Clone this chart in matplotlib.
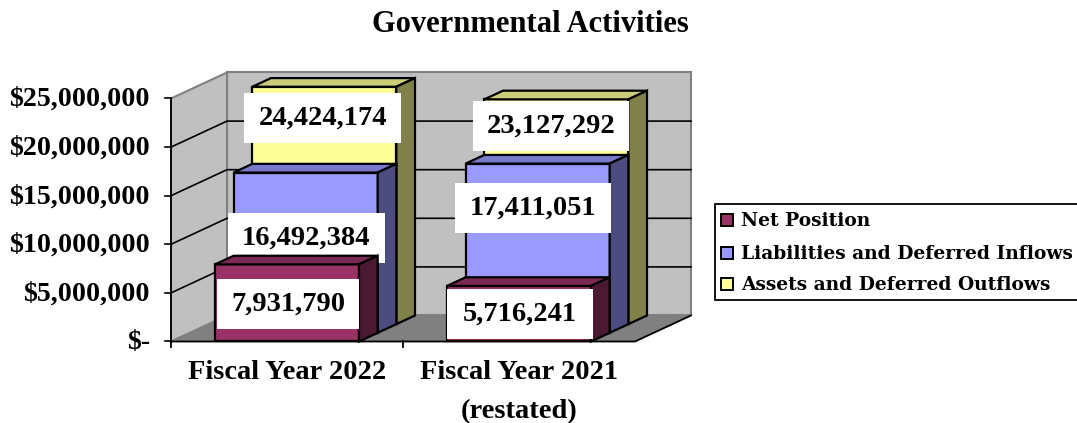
import matplotlib
matplotlib.use('Agg')
import matplotlib.pyplot as plt
from matplotlib.patches import Polygon, Rectangle

categories = ['Fiscal Year 2022', 'Fiscal Year 2021\n(restated)']
series_names = ['Net Position', 'Liabilities and Deferred Inflows', 'Assets and Deferred Outflows']
net_position = [7931790, 5716241]
liabilities = [16492384, 17411051]
assets = [24424174, 23127292]
y_ticks = [0, 5000000, 10000000, 15000000, 20000000, 25000000]
y_tick_labels = ['$-', '$5,000,000', '$10,000,000', '$15,000,000', '$20,000,000', '$25,000,000']

# front, top, side colours per series
net_colors = ('#993366', '#7A2952', '#4C1933')
liab_colors = ('#9999FF', '#7A7ACC', '#4C4C80')
asset_colors = ('#FFFF99', '#CCCC7A', '#808049')

# value label boxes in picture pixels: centre x, centre y, width
net_boxes = [(288, 304, 142), (520, 314.5, 146)]
liab_boxes = [(306.5, 238, 157), (533, 208.5, 156)]
asset_boxes = [(322.5, 118, 157), (551, 126, 156)]

X0, Y0 = 171, 341.5
CAT_W = 232
PX_PER_UNIT = 243 / 25000000
DEPTH_DX, DEPTH_DY = 18.67, -8.67
GAP = 44 / 232
SERIF = 'Liberation Serif'


def project(x, value, depth):
    """oblique projection of category pos, value and depth row to pixels"""
    return (X0 + x * CAT_W + depth * DEPTH_DX,
            Y0 - value * PX_PER_UNIT + depth * DEPTH_DY)


fig = plt.figure(figsize=(10.77, 4.23), dpi=100)
ax = fig.add_axes([0, 0, 1, 1])
ax.set_xlim(0, 1077)
ax.set_ylim(423, 0)
ax.axis('off')

ymax = y_ticks[-1]
ncat = len(categories)
nrow = len(series_names)

# walls and floor
ax.add_patch(Polygon([project(0, 0, nrow), project(ncat, 0, nrow),
                      project(ncat, ymax, nrow), project(0, ymax, nrow)],
                     fc='#C0C0C0', ec='#808080', lw=1.5, zorder=0))
ax.add_patch(Polygon([project(0, 0, 0), project(0, 0, nrow),
                      project(0, ymax, nrow), project(0, ymax, 0)],
                     fc='#C0C0C0', ec='#808080', lw=1.5, zorder=0))
ax.add_patch(Polygon([project(0, 0, 0), project(ncat, 0, 0),
                      project(ncat, 0, nrow), project(0, 0, nrow)],
                     fc='#808080', ec='none', zorder=0))

# gridlines and tick labels
for val, lab in zip(y_ticks, y_tick_labels):
    if 0 < val < ymax:
        pts = [project(0, val, 0), project(0, val, nrow), project(ncat, val, nrow)]
        ax.plot([p[0] for p in pts], [p[1] for p in pts], color='black', lw=1.2, zorder=0.5)
    fx, fy = project(0, val, 0)
    ax.plot([fx - 6, fx], [fy, fy], color='black', lw=1.2, zorder=0.5)
    ax.text(150, fy + 1, lab, ha='right', va='center', family=SERIF,
            weight='bold', fontsize=20.2, color='black')

# axis lines
p0, p1 = project(0, 0, 0), project(0, ymax, 0)
ax.plot([p0[0], p1[0]], [p0[1] + 6, p1[1]], color='black', lw=1.3, zorder=0.6)
p2, p3 = project(ncat, 0, 0), project(ncat, 0, nrow)
ax.plot([p0[0], p2[0], p3[0]], [p0[1], p2[1], p3[1]], color='black', lw=1.3, zorder=0.6)
tx, ty = project(1, 0, 0)
ax.plot([tx, tx], [ty, ty + 6], color='black', lw=1.3, zorder=0.6)

z = 1


def draw_bar(i, value, row, colors):
    global z
    xa, xb = i + GAP, i + 1 - GAP
    front = [project(xa, 0, row), project(xb, 0, row), project(xb, value, row), project(xa, value, row)]
    top = [project(xa, value, row), project(xb, value, row),
           project(xb, value, row + 1), project(xa, value, row + 1)]
    side = [project(xb, 0, row), project(xb, 0, row + 1),
            project(xb, value, row + 1), project(xb, value, row)]
    for pts, col in zip((front, top, side), colors):
        ax.add_patch(Polygon(pts, fc=col, ec='black', lw=1.6, joinstyle='miter', zorder=z))
    z += 1


def draw_label(box, value):
    global z
    cx, cy, w = box
    ax.add_patch(Rectangle((cx - w / 2, cy - 25), w, 50, fc='white', ec='none', zorder=z))
    ax.text(cx, cy, f'{value:,}', ha='center', va='center', family=SERIF,
            weight='bold', fontsize=20.5, color='black', zorder=z)
    z += 1


# back row first so the front ones cover it
rows = [(2, assets, asset_colors, asset_boxes),
        (1, liabilities, liab_colors, liab_boxes),
        (0, net_position, net_colors, net_boxes)]
for row, values, colors, boxes in rows:
    for i, v in enumerate(values):
        draw_bar(i, v, row, colors)
        draw_label(boxes[i], v)

# category labels
for i, cat in enumerate(categories):
    cx = project(i + 0.5, 0, 0)[0]
    ax.text(cx, 360, cat, ha='center', va='top', family=SERIF, weight='bold',
            fontsize=20.5, color='black', linespacing=1.72)

ax.text(530, 25, 'Governmental Activities', ha='center', va='center', family=SERIF,
        weight='bold', fontsize=22, color='black')

# legend, its right edge runs off the picture
ax.add_patch(Rectangle((714.5, 204), 372, 96, fc='white', ec='black', lw=1.3, zorder=z))
legend_y = [221, 254, 285]
legend_colors = [net_colors[0], liab_colors[0], asset_colors[0]]
for name, ly, col in zip(series_names, legend_y, legend_colors):
    ax.add_patch(Rectangle((721, ly - 6.5), 12, 12, fc=col, ec='black', lw=1.4, zorder=z + 1))
    ax.text(741, ly, name, ha='left', va='center', family='DejaVu Serif',
            weight='bold', fontsize=13.4, color='black', zorder=z + 1)

fig.savefig('out.png', dpi=100)
plt.close(fig)
